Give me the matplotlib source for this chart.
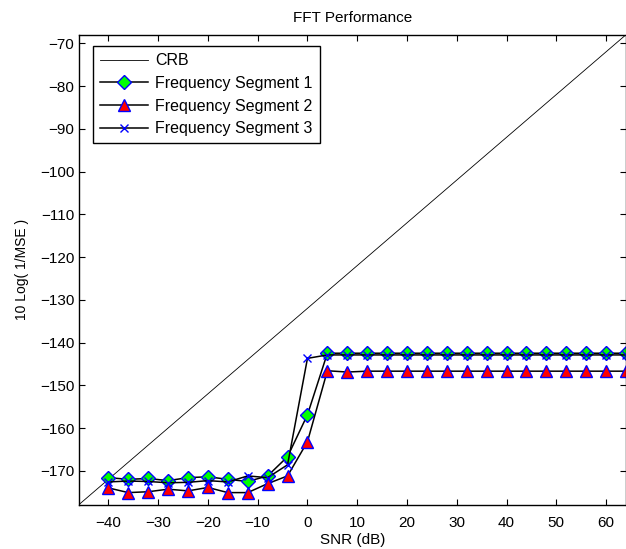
import numpy as np
import matplotlib
matplotlib.use('Agg')
import matplotlib.pyplot as plt

plt.rcParams['font.family'] = ['Liberation Sans', 'DejaVu Sans']

# SNR grid (dB)
snr = np.arange(-40, 65, 4)

# CRB reference line end points
crb_x = [-46, 64]
crb_y = [-178, -68]

seg1 = [-171.6, -172.0, -171.8, -172.3, -171.6, -171.4, -172.0, -172.5, -171.2, -166.7, -156.9,
        -142.5, -142.5, -142.5, -142.5, -142.5, -142.5, -142.5, -142.5, -142.5, -142.5,
        -142.5, -142.5, -142.5, -142.5, -142.5, -142.5]
seg2 = [-174.0, -175.1, -174.9, -174.3, -174.7, -173.9, -175.1, -175.1, -173.0, -171.2, -163.2,
        -146.6, -146.9, -146.7, -146.7, -146.7, -146.7, -146.7, -146.7, -146.7, -146.7,
        -146.7, -146.7, -146.7, -146.7, -146.7, -146.7]
seg3 = [-172.6, -172.4, -172.5, -172.8, -172.7, -172.3, -172.6, -171.2, -171.6, -168.6, -143.7,
        -142.9, -142.9, -142.9, -142.9, -142.9, -142.9, -142.9, -142.9, -142.9, -142.9,
        -142.9, -142.9, -142.9, -142.9, -142.9, -142.9]

fig = plt.figure(figsize=(6.26, 5.49), dpi=100)
ax = fig.add_axes([78.5/626, 1-505/549, (626-78.5)/626, (505-34.7)/549])

ax.plot(crb_x, crb_y, 'k-', lw=0.6, label='CRB')
ax.plot(snr, seg1, 'k-', lw=1.1, marker='D', ms=7, mfc='#00ff00', mec='b', mew=1.0,
        label='Frequency Segment 1')
ax.plot(snr, seg2, 'k-', lw=1.1, marker='^', ms=9, mfc='r', mec='b', mew=1.0,
        label='Frequency Segment 2')
ax.plot(snr, seg3, 'k-', lw=1.1, marker='x', ms=6, mec='b', mew=1.0,
        label='Frequency Segment 3')

ax.set_xlim(-46, 64)
ax.set_ylim(-178, -68)
ax.set_xticks(np.arange(-40, 61, 10))
ax.set_yticks(np.arange(-170, -69, 10))
ax.tick_params(direction='in', top=True, right=True, length=4, labelsize=11)
ax.tick_params(axis='x', pad=8)
ax.tick_params(axis='y', pad=3)
for s in ax.spines.values():
    s.set_linewidth(1.0)

ax.set_xlabel('SNR (dB)', fontsize=11, labelpad=2)
ax.set_ylabel('10 Log( 1/MSE )', fontsize=10, labelpad=8)
ax.set_title('FFT Performance', fontsize=11, pad=9)

leg = ax.legend(loc='upper left', bbox_to_anchor=((93-78.5)/547.5, 1-(46-34.7)/470.3),
                borderaxespad=0, fontsize=11.5, fancybox=False, framealpha=1,
                edgecolor='k', handlelength=3.0, handletextpad=0.45, labelspacing=0.48,
                borderpad=0.45)
leg.get_frame().set_linewidth(1.0)

fig.savefig('out.png', dpi=100)
